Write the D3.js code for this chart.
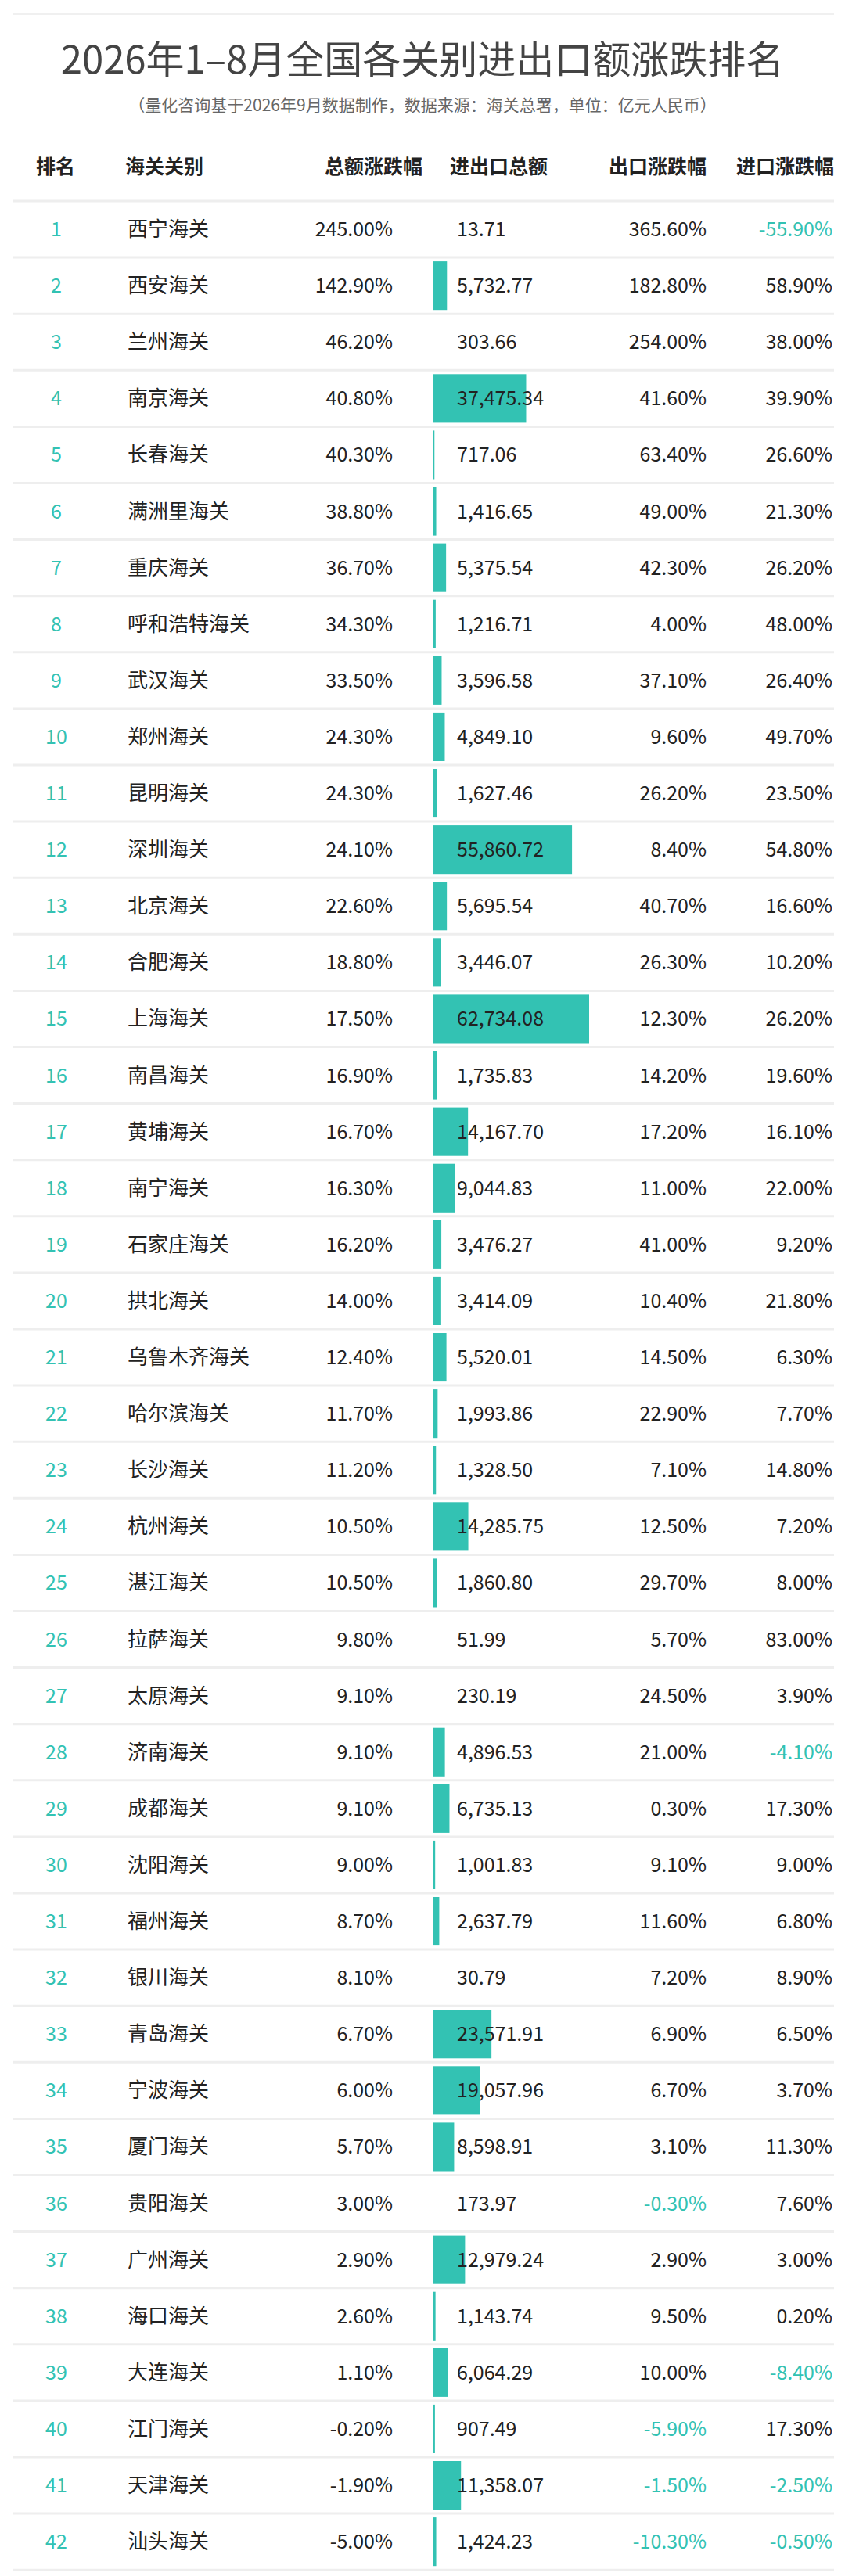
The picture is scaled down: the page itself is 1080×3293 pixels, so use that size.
<!DOCTYPE html>
<html>
<head>
<meta charset="utf-8">
<script src="https://cdn.jsdelivr.net/npm/d3@7"></script>
<style>
  body { margin: 0; background: #fff; }
  svg { display: block; font-family: "Noto Sans CJK SC", "Noto Sans", sans-serif; }
</style>
</head>
<body>
<svg id="viz" width="1080" height="3293"></svg>
<script>
// Table data
var names = ['西宁海关','西安海关','兰州海关','南京海关','长春海关','满洲里海关','重庆海关','呼和浩特海关','武汉海关','郑州海关',
  '昆明海关','深圳海关','北京海关','合肥海关','上海海关','南昌海关','黄埔海关','南宁海关','石家庄海关','拱北海关',
  '乌鲁木齐海关','哈尔滨海关','长沙海关','杭州海关','湛江海关','拉萨海关','太原海关','济南海关','成都海关','沈阳海关',
  '福州海关','银川海关','青岛海关','宁波海关','厦门海关','贵阳海关','广州海关','海口海关','大连海关','江门海关',
  '天津海关','汕头海关'];
var totalChange = [245.0,142.9,46.2,40.8,40.3,38.8,36.7,34.3,33.5,24.3,24.3,24.1,22.6,18.8,17.5,16.9,16.7,16.3,16.2,14.0,
  12.4,11.7,11.2,10.5,10.5,9.8,9.1,9.1,9.1,9.0,8.7,8.1,6.7,6.0,5.7,3.0,2.9,2.6,1.1,-0.2,-1.9,-5.0];
var tradeTotal = [13.71,5732.77,303.66,37475.34,717.06,1416.65,5375.54,1216.71,3596.58,4849.10,1627.46,55860.72,5695.54,
  3446.07,62734.08,1735.83,14167.70,9044.83,3476.27,3414.09,5520.01,1993.86,1328.50,14285.75,1860.80,51.99,230.19,
  4896.53,6735.13,1001.83,2637.79,30.79,23571.91,19057.96,8598.91,173.97,12979.24,1143.74,6064.29,907.49,11358.07,1424.23];
var exportChange = [365.6,182.8,254.0,41.6,63.4,49.0,42.3,4.0,37.1,9.6,26.2,8.4,40.7,26.3,12.3,14.2,17.2,11.0,41.0,10.4,
  14.5,22.9,7.1,12.5,29.7,5.7,24.5,21.0,0.3,9.1,11.6,7.2,6.9,6.7,3.1,-0.3,2.9,9.5,10.0,-5.9,-1.5,-10.3];
var importChange = [-55.9,58.9,38.0,39.9,26.6,21.3,26.2,48.0,26.4,49.7,23.5,54.8,16.6,10.2,26.2,19.6,16.1,22.0,9.2,21.8,
  6.3,7.7,14.8,7.2,8.0,83.0,3.9,-4.1,17.3,9.0,6.8,8.9,6.5,3.7,11.3,7.6,3.0,0.2,-8.4,17.3,-2.5,-0.5];
var headers = ['排名','海关关别','总额涨跌幅','进出口总额','出口涨跌幅','进口涨跌幅'];

var teal = '#33c2b3';
var dark = '#222';

var rows = names.map(function (n, i) {
  return { rank: i + 1, name: n, total: totalChange[i], trade: tradeTotal[i], ex: exportChange[i], im: importChange[i] };
});

var svg = d3.select('#viz');

// Title & subtitle
svg.append('text').attr('x', 540).attr('y', 94).attr('text-anchor', 'middle')
  .style('font-size', '49px').attr('fill', '#444').text('2026年1–8月全国各关别进出口额涨跌排名');
svg.append('text').attr('x', 540).attr('y', 142).attr('text-anchor', 'middle')
  .style('font-size', '21px').attr('fill', '#666').text('（量化咨询基于2026年9月数据制作，数据来源：海关总署，单位：亿元人民币）');

svg.append('line').attr('x1', 17).attr('x2', 1066).attr('y1', 18).attr('y2', 18)
  .attr('stroke', '#f0f0f0').attr('stroke-width', 2);

// Layout
var tableTop = 257, rowH = 72.1;
var y = d3.scaleBand().domain(d3.range(rows.length)).range([tableTop, tableTop + rowH * rows.length]);
var barX = 553;
var w = d3.scaleLinear().domain([0, d3.max(tradeTotal)]).range([0, 200]);
var fmt = d3.format(',.2f');
var pct = function (v) { return v.toFixed(2) + '%'; };

// Header
var hx = [[46, 'start'], [160, 'start'], [540, 'end'], [575, 'start'], [903, 'end'], [1066, 'end']];
svg.selectAll('text.h').data(headers).enter().append('text').classed('h', true)
  .attr('x', function (d, i) { return hx[i][0]; })
  .attr('text-anchor', function (d, i) { return hx[i][1]; })
  .attr('y', 222).style('font-size', '25px').style('font-weight', 'bold').attr('fill', dark).text(function (d) { return d; });

svg.append('line').attr('x1', 17).attr('x2', 1066).attr('y1', tableTop).attr('y2', tableTop)
  .attr('stroke', '#eee').attr('stroke-width', 3);

var g = svg.selectAll('g.row').data(rows).enter().append('g').classed('row', true)
  .attr('transform', function (d, i) { return 'translate(0,' + y(i) + ')'; });

g.append('line').attr('x1', 17).attr('x2', 1066).attr('y1', rowH).attr('y2', rowH)
  .attr('stroke', '#eee').attr('stroke-width', 3);

g.append('rect').attr('x', barX).attr('y', 5).attr('height', rowH - 10)
  .attr('width', function (d) { return w(d.trade); }).attr('fill', teal);

var ty = rowH / 2 + 9;
g.append('text').attr('x', 72).attr('y', ty).attr('text-anchor', 'middle').style('font-size', '25px')
  .attr('fill', teal).text(function (d) { return d.rank; });
g.append('text').attr('x', 163).attr('y', ty).style('font-size', '26px').attr('fill', dark)
  .text(function (d) { return d.name; });
g.append('text').attr('x', 502).attr('y', ty).attr('text-anchor', 'end').style('font-size', '25px')
  .attr('fill', dark).text(function (d) { return pct(d.total); });
g.append('text').attr('x', 584).attr('y', ty).style('font-size', '25px')
  .attr('fill', dark).text(function (d) { return fmt(d.trade); });
g.append('text').attr('x', 903).attr('y', ty).attr('text-anchor', 'end').style('font-size', '25px')
  .attr('fill', function (d) { return d.ex < 0 ? teal : dark; }).text(function (d) { return pct(d.ex); });
g.append('text').attr('x', 1064).attr('y', ty).attr('text-anchor', 'end').style('font-size', '25px')
  .attr('fill', function (d) { return d.im < 0 ? teal : dark; }).text(function (d) { return pct(d.im); });
</script>
</body>
</html>
